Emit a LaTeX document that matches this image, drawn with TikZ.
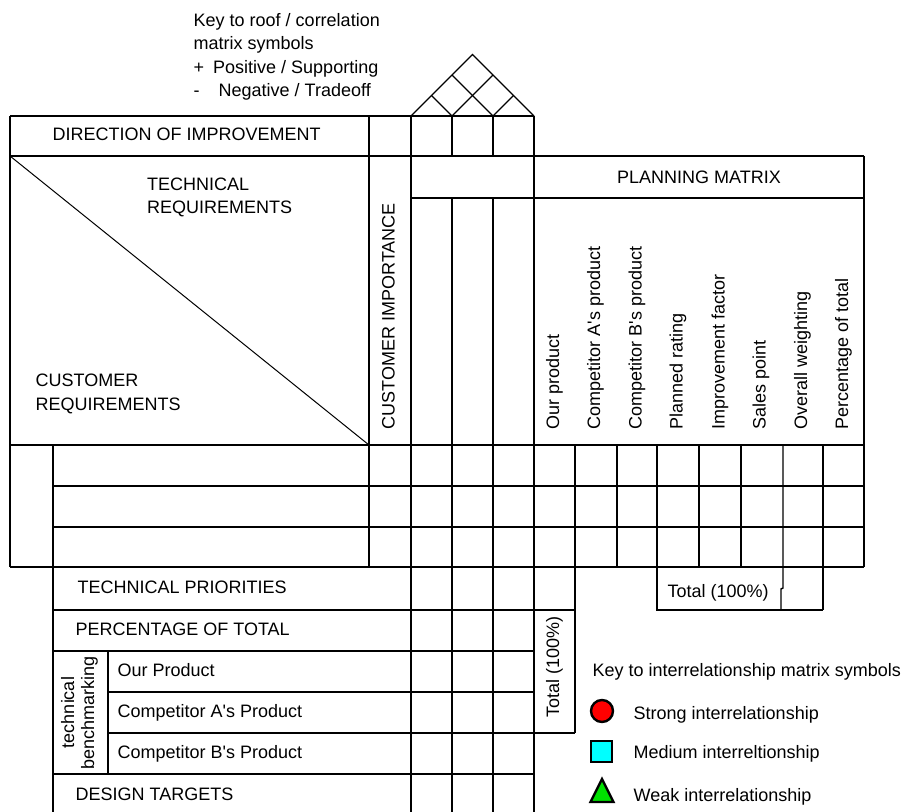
\documentclass[tikz,border=0pt]{standalone}
\usepackage{fontspec}
\setmainfont{Liberation Sans}[Ligatures=TeXOff]
\usetikzlibrary{positioning}

\definecolor{strongred}{RGB}{255,0,0}
\definecolor{mediumcyan}{RGB}{0,255,255}
\definecolor{weakgreen}{RGB}{0,225,0}

\begin{document}
\begin{tikzpicture}[x=0.5pt,y=-0.5pt,line width=0.7pt,
  font=\fontsize{9}{11.7}\selectfont,
  lbl/.style={inner sep=0pt,anchor=base west},
  blocklbl/.style={inner sep=0pt,anchor=north west,align=left},
  vlbl/.style={inner sep=0pt,anchor=west,rotate=90},
  symb/.style={draw,line width=1.2pt,inner sep=0pt}]
\useasboundingbox (0,0) rectangle (910,812);

\node[blocklbl] (keyroof) at (193,12.5) {Key to roof / correlation\\matrix symbols\\+\hspace{4.5pt}Positive / Supporting\\-\hspace{9.5pt}Negative / Tradeoff};

\draw[line width=0.6pt] (411,116) -- (472.5,54.5) -- (534,116);
\draw[line width=0.6pt] (452,116) -- (431.5,95.5);
\draw[line width=0.6pt] (452,116) -- (493,75);
\draw[line width=0.6pt] (493,116) -- (452,75);
\draw[line width=0.6pt] (493,116) -- (513.5,95.5);

\draw (10,116) -- (534,116);
\draw (10,156) -- (864,156);
\draw (411,198) -- (864,198);
\draw (10,445) -- (864,445);
\draw (53,486) -- (864,486);
\draw (53,527) -- (864,527);
\draw (10,567) -- (864,567);
\draw (53,610) -- (575,610);
\draw (53,651) -- (534,651);
\draw (108,692) -- (534,692);
\draw (108,733) -- (575,733);
\draw (53,774) -- (534,774);

\draw (10,116) -- (10,567);
\draw (53,445) -- (53,812);
\draw (108,651) -- (108,774);
\draw (369,116) -- (369,567);
\draw (411,116) -- (411,812);
\draw (452,116) -- (452,156) (452,198) -- (452,812);
\draw (493,116) -- (493,156) (493,198) -- (493,812);
\draw (534,116) -- (534,812);
\draw (575,445) -- (575,733);
\draw (617,445) -- (617,567);
\draw (657,445) -- (657,610) -- (823,610);
\draw (699,445) -- (699,567);
\draw (741,445) -- (741,567);
\draw (783,445) -- (783,588) -- (781,589) -- (781,610);
\draw (823,445) -- (823,610);
\draw (864,156) -- (864,567);
\draw[line width=0.5pt] (10,156) -- (369,445);

\node[lbl] (dirimp) at (52,141) {DIRECTION OF IMPROVEMENT};
\node[blocklbl] (techreq) at (146.5,177) {TECHNICAL\\REQUIREMENTS};
\node[blocklbl] (custreq) at (35,373.5) {CUSTOMER\\REQUIREMENTS};
\node[vlbl] (custimp) at (388.5,430) {CUSTOMER IMPORTANCE};
\node[inner sep=0pt] (planmat) at (699,177) {PLANNING MATRIX};

\node[vlbl] (ourprod) at (554.5,430) {Our product};
\node[vlbl] (compa) at (595.5,430) {Competitor A's product};
\node[vlbl] (compb) at (637,430) {Competitor B's product};
\node[vlbl] (planned) at (678,430) {Planned rating};
\node[vlbl] (improve) at (720,430) {Improvement factor};
\node[vlbl] (sales) at (761,430) {Sales point};
\node[vlbl] (overall) at (802.5,430) {Overall weighting};
\node[vlbl] (pct) at (843.5,430) {Percentage of total};

\node[lbl] (techprio) at (77,593.5) {TECHNICAL PRIORITIES};
\node[lbl] (pcttotal) at (75,635.5) {PERCENTAGE OF TOTAL};
\node[lbl] (bmour) at (117,676.5) {Our Product};
\node[lbl] (bmcompa) at (117,717.5) {Competitor A's Product};
\node[lbl] (bmcompb) at (117,758.5) {Competitor B's Product};
\node[lbl] (designtgt) at (75,800.5) {DESIGN TARGETS};
\node[inner sep=0pt,rotate=90,align=center,font=\fontsize{9}{10}\selectfont] (techbench) at (79.5,712.5) {technical\\benchmarking};

\node[lbl] (totalh) at (667,597) {Total (100\%)};
\node[inner sep=0pt,rotate=90] (totalv) at (554.5,667) {Total (100\%)};

\node[lbl] (keyint) at (592,676) {Key to interrelationship matrix symbols};
\node[symb,circle,fill=strongred,minimum size=11pt] (strong) at (602,711) {};
\node[symb,rectangle,fill=mediumcyan,minimum size=10.3pt] (medium) at (601.5,751.5) {};
\draw[line width=1.2pt,fill=weakgreen] (590.5,802) -- (613.5,802) -- (602,779) -- cycle;
\node[lbl] (strongtxt) at (633,719) {Strong interrelationship};
\node[lbl] (mediumtxt) at (633,758.5) {Medium interreltionship};
\node[lbl] (weaktxt) at (633,801) {Weak interrelationship};

\end{tikzpicture}
\end{document}
